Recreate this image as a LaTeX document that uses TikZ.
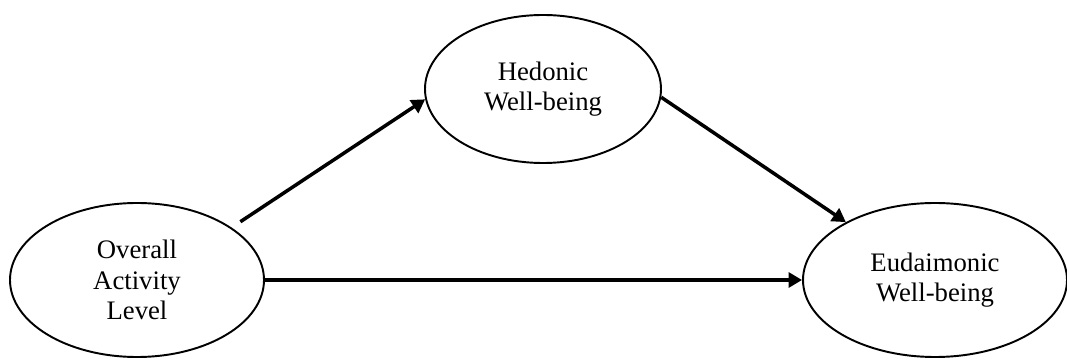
\documentclass[tikz,border=0pt]{standalone}
\usepackage{fontspec}
\setmainfont{Liberation Serif}
\usetikzlibrary{arrows.meta,shapes.geometric}

\begin{document}
\begin{tikzpicture}[
		varnode/.style={ellipse, draw, line width=1.1pt, inner sep=0pt, align=center,
			font=\fontsize{15.2}{17.4}\selectfont},
		arr/.style={line width=2pt, -{Triangle[length=2.7mm,width=3mm]}}
	]
		%%%%% START %%%%%
		
		\useasboundingbox (0, 0) rectangle (21.34, -7.2);
		
		\node[varnode, minimum width=5.08cm, minimum height=3.08cm] (ova) at (2.74, -5.6) {Overall\\Activity\\Level};
		\node[varnode, minimum width=4.72cm, minimum height=2.96cm] (hed) at (10.86, -1.78) {Hedonic\\Well-being};
		\node[varnode, minimum width=5.28cm, minimum height=3.08cm] (eud) at (18.7, -5.6) {Eudaimonic\\Well-being};
		
		\draw[arr, shorten <=0.21cm] (ova.29) -- (hed.185);
		\draw[arr] (hed.-4) -- (eud.147);
		\draw[arr] (ova.east) -- (eud.west);
		
		%%%%% END %%%%%
	\end{tikzpicture}
\end{document}
